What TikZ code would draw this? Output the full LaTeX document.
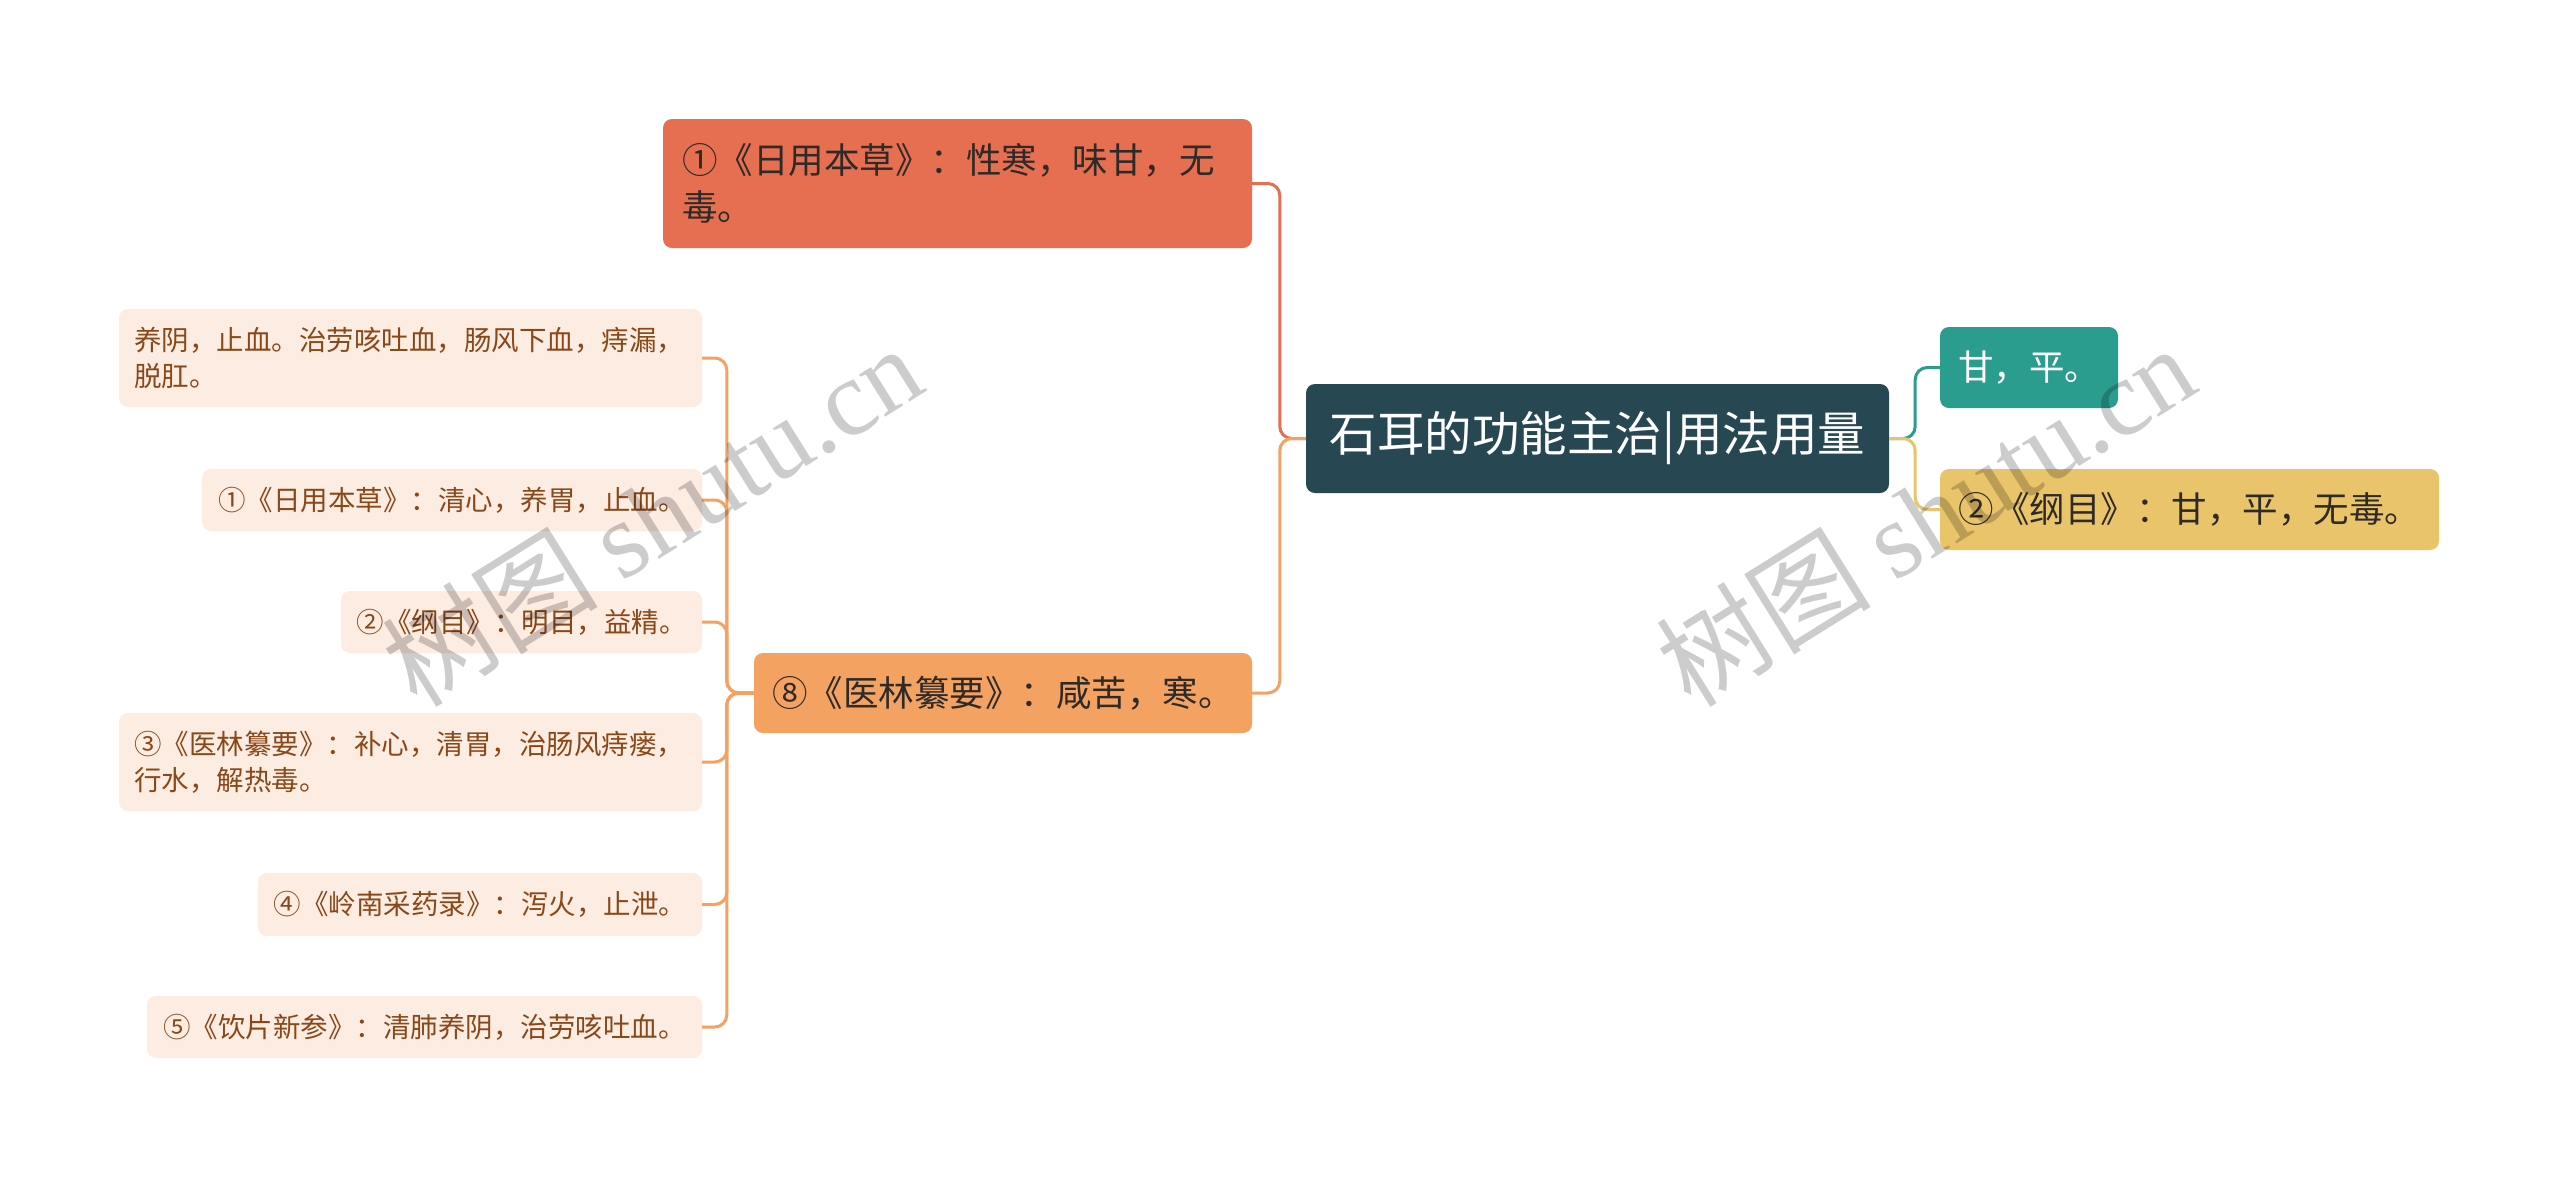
\documentclass[tikz,border=0pt]{standalone}
\usepackage{fontspec}
\setmainfont{Noto Sans CJK SC}
\newfontfamily\wmlatin{Liberation Serif}
\definecolor{cRoot}{HTML}{274853}
\definecolor{cRed}{HTML}{E76F51}
\definecolor{cSand}{HTML}{F4A261}
\definecolor{cTeal}{HTML}{2A9D8F}
\definecolor{cYellow}{HTML}{E9C46A}
\definecolor{cLeaf}{HTML}{FDECE1}
\definecolor{cLeafText}{HTML}{8A4718}
\definecolor{cDark}{HTML}{2E2A28}
\begin{document}
\begin{tikzpicture}[x=1pt,y=-1pt,
  every node/.style={inner sep=0pt},
  nbox/.style={rounded corners=9pt, draw=none},
  bigtext/.style={font=\fontsize{35.5}{47}\selectfont},
  leaf/.style={nbox, fill=cLeaf, text=cLeafText, font=\fontsize{27.5}{36}\selectfont},
  link/.style={line width=3pt, rounded corners=12pt},
]
\useasboundingbox (0,0) rectangle (2560,1179);
\fill[white] (0,0) rectangle (2560,1179);

% root
\node[nbox, fill=cRoot, text=white, minimum width=583pt, minimum height=109pt,
  font=\fontsize{47.5}{56}\selectfont] (root) at (1597.5,438.5) {石耳的功能主治|用法用量};

% first-level
\node[nbox, bigtext, fill=cRed, text=cDark, minimum width=589pt, minimum height=129pt,
  text width=551pt, align=left] (n1) at (957.5,183.5) {①《日用本草》：性寒，味甘，无\\毒。};
\node[nbox, bigtext, fill=cSand, text=cDark, minimum width=498pt, minimum height=80pt]
  (n8) at (1003,693) {⑧《医林纂要》：咸苦，寒。};
\node[nbox, bigtext, fill=cTeal, text=white, minimum width=178pt, minimum height=81pt]
  (t1) at (2029,367.5) {甘，平。};
\node[nbox, bigtext, fill=cYellow, text=cDark, minimum width=499pt, minimum height=81pt]
  (t2) at (2189.5,509.5) {②《纲目》：甘，平，无毒。};

% leaves
\node[leaf, minimum width=583pt, minimum height=98pt, text width=553pt, align=left]
  (L1) at (410.5,358) {养阴，止血。治劳咳吐血，肠风下血，痔漏，\\脱肛。};
\node[leaf, minimum width=500pt, minimum height=62pt]
  (L2) at (452,500) {①《日用本草》：清心，养胃，止血。};
\node[leaf, minimum width=361pt, minimum height=62pt]
  (L3) at (521.5,622) {②《纲目》：明目，益精。};
\node[leaf, minimum width=583pt, minimum height=98pt, text width=553pt, align=left]
  (L4) at (410.5,762) {③《医林纂要》：补心，清胃，治肠风痔瘘，\\行水，解热毒。};
\node[leaf, minimum width=444pt, minimum height=63pt]
  (L5) at (480,904.5) {④《岭南采药录》：泻火，止泄。};
\node[leaf, minimum width=555pt, minimum height=62pt]
  (L6) at (424.5,1027) {⑤《饮片新参》：清肺养阴，治劳咳吐血。};

% connectors
\draw[link, cRed] (root.west) -- ++(-26,0) |- (n1.east);
\draw[link, cSand] (root.west) -- ++(-26,0) |- (n8.east);
\foreach \l in {L1,L2,L3,L4,L5,L6}
  \draw[link, cSand] (n8.west) -- ++(-27,0) |- (\l.east);
\draw[link, cTeal] (root.east) -- ++(26,0) |- (t1.west);
\draw[link, cYellow] (root.east) -- ++(26,0) |- (t2.west);

% watermarks
\node[rotate=32, text=black, opacity=0.2, font=\fontsize{108}{116}\selectfont]
  (wm1) at (652,515) {树图 {\wmlatin shutu.cn}};
\node[rotate=32, text=black, opacity=0.2, font=\fontsize{108}{116}\selectfont]
  (wm2) at (1925,515) {树图 {\wmlatin shutu.cn}};
\end{tikzpicture}
\end{document}
